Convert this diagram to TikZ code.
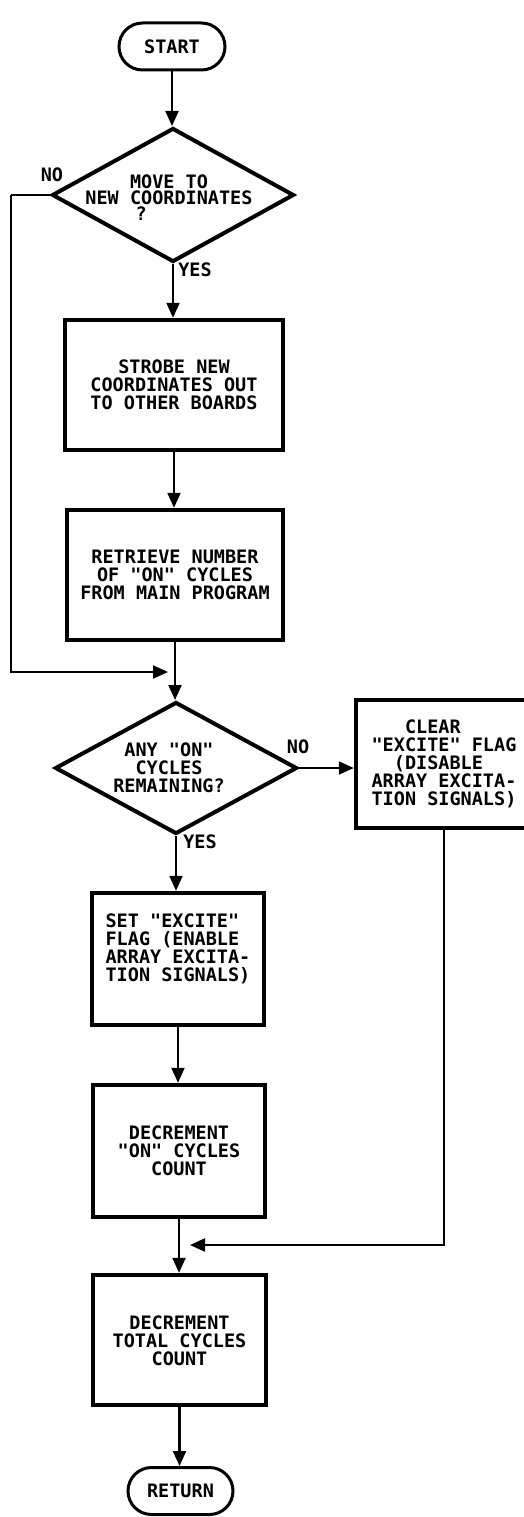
\documentclass[tikz,border=0pt]{standalone}
\usepackage{fontspec}
\setmonofont{DejaVu Sans Mono}
\usetikzlibrary{arrows.meta,shapes.geometric,shapes.misc}
\begin{document}
\begin{tikzpicture}[x=1pt,y=-1pt,
  txt/.style={font=\ttfamily\bfseries\fontsize{18.5}{18}\selectfont, align=center, inner sep=0pt},
  term/.style={draw, line width=3pt, rounded rectangle, minimum width=106pt, minimum height=47pt, inner sep=0pt, font=\ttfamily\bfseries\fontsize{18.5}{18}\selectfont},
  procbox/.style={draw, line width=4.5pt, rectangle, inner sep=0pt},
  dia/.style={draw, line width=4pt, diamond, inner sep=0pt},
  conn/.style={line width=2.2pt},
  arr/.style={conn, -{Triangle[width=13pt,length=15pt]}},
]
\useasboundingbox (0,0) rectangle (524,1517);
\clip (0,0) rectangle (524,1517);

\node[term] (start) at (172,46.5) {START};
\node[dia, minimum width=242pt, minimum height=134pt] (d1) at (173,195) {};
\node[txt, font=\ttfamily\bfseries\fontsize{18.5}{16}\selectfont] (d1t) at (169,198) {MOVE TO\\NEW COORDINATES\\?\hphantom{XXXXX}};
\node[procbox, minimum width=218pt, minimum height=130pt] (b1) at (174,385) {};
\node[txt] (b1t) at (b1) {STROBE NEW\\COORDINATES OUT\\TO OTHER BOARDS};
\node[procbox, minimum width=216pt, minimum height=130pt] (b2) at (175,575) {};
\node[txt] (b2t) at (b2) {RETRIEVE NUMBER\\OF "ON" CYCLES\\FROM MAIN PROGRAM};
\node[dia, minimum width=242pt, minimum height=132pt] (d2) at (176,768) {};
\node[txt] (d2t) at (169,768) {ANY "ON"\\CYCLES\\REMAINING?};
\node[procbox, minimum width=176pt, minimum height=128pt] (b3) at (444,764) {};
\node[txt, align=left] (b3t) at (444,764) {\hphantom{XXX}CLEAR\\"EXCITE" FLAG\\\hphantom{XX}(DISABLE\\ARRAY EXCITA-\\TION SIGNALS)};
\node[procbox, minimum width=172pt, minimum height=132pt] (b4) at (178,959) {};
\node[txt, align=left] (b4t) at (178,949) {SET "EXCITE"\\FLAG (ENABLE\\ARRAY EXCITA-\\TION SIGNALS)};
\node[procbox, minimum width=172pt, minimum height=132pt] (b5) at (179,1151) {};
\node[txt] (b5t) at (b5) {DECREMENT\\"ON" CYCLES\\COUNT};
\node[procbox, minimum width=173pt, minimum height=130pt] (b6) at (179.5,1340) {};
\node[txt] (b6t) at (179.5,1341) {DECREMENT\\TOTAL CYCLES\\COUNT};
\node[term, minimum width=105pt] (ret) at (180.5,1491) {RETURN};

\node[txt] (no1) at (52,175) {NO};
\node[txt] (yes1) at (195,270) {YES};
\node[txt] (no2) at (298,747) {NO};
\node[txt] (yes2) at (200,842) {YES};

\coordinate (m1) at (168,672);
\coordinate (m2) at (190,1245);

\draw[arr] (start.south) -- (start.south |- d1.north);
\draw[arr] (d1.south) -- (d1.south |- b1.north);
\draw[arr] (b1.south) -- (b1.south |- b2.north);
\draw[conn] (d1.west) -- ++(-39,0) coordinate (l1);
\draw[arr] (l1) |- (m1);
\draw[arr] (b2.south) -- (b2.south |- d2.north);
\draw[arr] (d2.east) -- (d2.east -| b3.west);
\draw[arr] (d2.south) -- (d2.south |- b4.north);
\draw[arr] (b4.south) -- (b4.south |- b5.north);
\draw[arr] (b5.south) -- (b5.south |- b6.north);
\draw[arr] (b3.south) |- (m2);
\draw[arr] (b6.south) -- (b6.south |- ret.north);
\end{tikzpicture}
\end{document}
